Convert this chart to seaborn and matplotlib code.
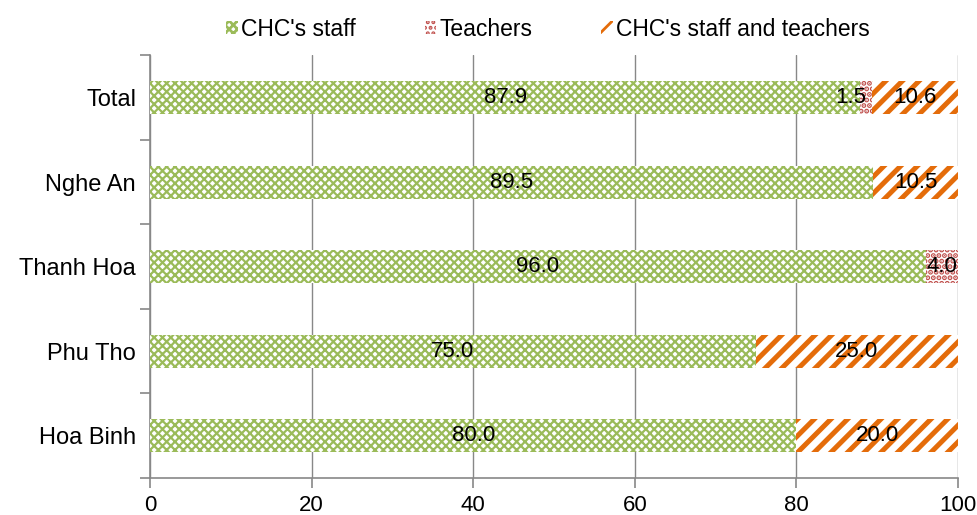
import matplotlib
matplotlib.use('Agg')
import matplotlib.pyplot as plt
from matplotlib.patches import Patch
import seaborn as sns
import numpy as np
import pandas as pd

sns.set_style('white')
plt.rcParams['font.family'] = ['Liberation Sans', 'DejaVu Sans']
plt.rcParams['text.color'] = 'black'
plt.rcParams['xtick.labelcolor'] = 'black'
plt.rcParams['ytick.labelcolor'] = 'black'

# data (percent)
provinces = ['Total', 'Nghe An', 'Thanh Hoa', 'Phu Tho', 'Hoa Binh']
chc_staff = [87.9, 89.5, 96.0, 75.0, 80.0]
teachers = [1.5, 0.0, 4.0, 0.0, 0.0]
both = [10.6, 10.5, 0.0, 25.0, 20.0]

series_names = ["CHC's staff", 'Teachers', "CHC's staff and teachers"]
colors = ['#9BBB59', '#C0504D', '#E46C0A']
hatches = ['xxxx', '...', '//']
hatch_lw = [1.6, 2.6, 3.6]

df = pd.DataFrame({'province': provinces, 's1': chc_staff, 's2': teachers, 's3': both})
df['c1'] = df['s1']
df['c2'] = df['s1'] + df['s2']
df['c3'] = df['s1'] + df['s2'] + df['s3']

fig = plt.figure(figsize=(9.77, 5.15), dpi=100)
ax = fig.add_axes([0.1535, 0.0718, 0.827, 0.821])

bar_w = 0.39
# draw cumulative bars from the longest to the shortest so each segment shows
for col, c, h, lw in zip(['c3', 'c2', 'c1'], colors[::-1], hatches[::-1], hatch_lw[::-1]):
    plt.rcParams['hatch.linewidth'] = lw
    sns.barplot(data=df, x=col, y='province', order=provinces, orient='h',
                width=bar_w, color='white', ax=ax, errorbar=None)
    for p in ax.patches[-len(provinces):]:
        p.set_facecolor('white')
        p.set_edgecolor(c)
        p.set_linewidth(0)
        p.set_hatch(h)
        p.set_zorder(3)
        if hasattr(p, 'set_hatch_linewidth'):
            p.set_hatch_linewidth(lw)

# value labels in each segment
for i, prov in enumerate(provinces):
    left = 0
    for vals in (chc_staff, teachers, both):
        v = vals[i]
        if v > 0:
            ha = 'right' if v < 3 else 'center'
            ax.text(left + v / 2, i, f'{v:.1f}', ha=ha, va='center',
                    fontsize=16, color='black', zorder=5)
        left += v

ax.set_xlim(0, 100)
ax.set_ylim(4.5, -0.5)
ax.set_xticks([0, 20, 40, 60, 80, 100])
ax.set_xlabel('')
ax.set_ylabel('')
ax.xaxis.grid(True, color='#888888', linewidth=1.0)
ax.set_axisbelow(True)

ax.set_yticks(range(len(provinces)))
ax.set_yticklabels(provinces)
ax.set_yticks(np.arange(-0.5, len(provinces), 1.0), minor=True)
ax.tick_params(axis='y', which='major', length=0, pad=10, labelsize=17)
ax.tick_params(axis='y', which='minor', length=7, width=1.2, color='#888888', direction='out', left=True)
ax.tick_params(axis='x', which='major', length=7, width=1.2, color='#888888', direction='out',
               bottom=True, pad=5, labelsize=16)

for s in ['top', 'right']:
    ax.spines[s].set_visible(False)
for s in ['left', 'bottom']:
    ax.spines[s].set_color('#888888')
    ax.spines[s].set_linewidth(1.2)

handles = []
for name, c, h in zip(series_names, colors, hatches):
    handles.append(Patch(facecolor='white', edgecolor=c, hatch=h, linewidth=0, label=name))
plt.rcParams['hatch.linewidth'] = 2.0
fig.legend(handles=handles, loc='upper center', bbox_to_anchor=(0.561, 1.005), ncol=3,
           frameon=False, fontsize=16.5, handlelength=0.5, handleheight=0.5,
           handletextpad=0.15, columnspacing=3.0, labelcolor='black')

fig.savefig('out.png', dpi=100)
